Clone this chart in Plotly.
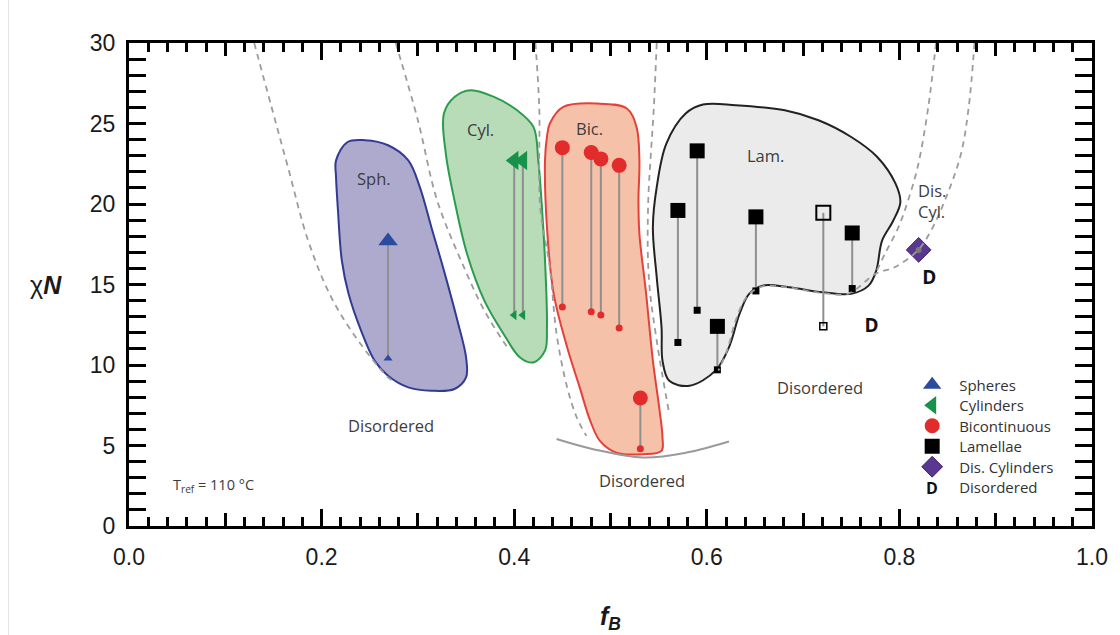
import plotly.graph_objects as go

# ---------------- data (f_B, chiN) ----------------
# measured points: large marker = ordered state, small marker = lower bound
sph_f = [0.269]
sph_hi = [17.7]
sph_lo = [10.4]

cyl_f = [0.400, 0.409]
cyl_hi = [22.7, 22.7]
cyl_lo = [13.1, 13.1]

bic_f = [0.450, 0.480, 0.490, 0.509, 0.531]
bic_hi = [23.5, 23.2, 22.8, 22.4, 7.95]
bic_lo = [13.6, 13.3, 13.1, 12.3, 4.8]

lam_f = [0.570, 0.590, 0.611, 0.651, 0.751]
lam_hi = [19.6, 23.3, 12.4, 19.2, 18.2]
lam_lo = [11.4, 13.4, 9.7, 14.6, 14.75]

lam_open_f = [0.721]
lam_open_hi = [19.45]
lam_open_lo = [12.4]

discyl_f = [0.820]
discyl_chi = [17.15]

dis_f = [0.771, 0.831]
dis_chi = [12.36, 15.34]

# phase regions (outline points)
sph_region_f = [0.215, 0.227, 0.245, 0.269, 0.290, 0.302, 0.314, 0.328, 0.341, 0.350, 0.350,
                0.338, 0.314, 0.290, 0.269, 0.255, 0.241, 0.228, 0.221, 0.217, 0.215, 0.215]
sph_region_chi = [22.71, 23.85, 23.96, 23.65, 22.71, 21.05, 18.56, 15.66, 12.76, 10.47, 9.23,
                  8.51, 8.40, 8.61, 9.33, 10.27, 12.13, 14.42, 16.49, 19.60, 21.67, 22.71]

cyl_region_f = [0.327, 0.338, 0.355, 0.379, 0.403, 0.420, 0.425, 0.429, 0.432, 0.434, 0.432,
                0.420, 0.406, 0.389, 0.369, 0.351, 0.338, 0.329, 0.327]
cyl_region_chi = [25.62, 26.65, 27.07, 26.65, 25.82, 24.79, 22.71, 19.60, 16.49, 12.34, 10.89,
                  10.16, 10.47, 11.93, 14.00, 16.91, 20.22, 23.13, 25.62]

bic_region_f = [0.437, 0.451, 0.486, 0.517, 0.527, 0.530, 0.529, 0.530, 0.537, 0.544, 0.551,
                0.554, 0.553, 0.534, 0.506, 0.489, 0.479, 0.468, 0.454, 0.441, 0.434, 0.432,
                0.434, 0.437]
bic_region_chi = [25.00, 26.03, 26.24, 25.93, 24.79, 22.71, 20.22, 18.15, 14.42, 10.27, 7.16,
                  5.49, 4.67, 4.46, 4.56, 5.29, 6.53, 8.61, 11.31, 14.42, 18.56, 22.71,
                  24.16, 25.00]

lam_region_f = [0.558, 0.578, 0.596, 0.630, 0.681, 0.716, 0.750, 0.777, 0.796, 0.801, 0.793,
                0.782, 0.776, 0.768, 0.750, 0.720, 0.685, 0.658, 0.644, 0.634, 0.623, 0.609,
                0.582, 0.561, 0.554, 0.553, 0.548, 0.544, 0.548, 0.558]
lam_region_chi = [23.75, 25.62, 26.18, 26.14, 25.82, 25.20, 24.16, 22.92, 21.26, 20.10, 18.90,
                  17.73, 15.87, 14.93, 14.42, 14.52, 14.83, 14.93, 14.42, 13.17, 11.10, 9.65,
                  8.71, 9.02, 10.27, 12.34, 15.45, 18.56, 21.05, 23.75]

# theoretical phase boundaries (dashed)
bound_a_f = [0.130, 0.148, 0.165, 0.186, 0.210, 0.238, 0.269, 0.274]
bound_a_chi = [30.0, 26.03, 22.30, 17.73, 14.21, 11.51, 9.23, 9.02]
bound_b_f = [0.277, 0.300, 0.320, 0.348, 0.369, 0.393]
bound_b_chi = [30.0, 25.20, 20.22, 16.05, 13.38, 11.08]
bound_c_f = [0.422, 0.426, 0.427, 0.437, 0.444, 0.455, 0.465, 0.475]
bound_c_chi = [30.0, 26.03, 19.81, 16.07, 11.93, 8.61, 6.74, 5.60]
bound_d_f = [0.548, 0.545, 0.539, 0.540, 0.548, 0.561]
bound_d_chi = [30.0, 26.01, 19.79, 15.25, 11.51, 6.97]
bound_e_f = [0.838, 0.830, 0.819, 0.809, 0.799, 0.785, 0.775]
bound_e_chi = [30.0, 26.03, 22.30, 20.22, 18.56, 16.91, 15.66]
bound_f_f = [0.878, 0.872, 0.864, 0.850, 0.833, 0.819, 0.795, 0.775, 0.747, 0.716, 0.685,
             0.657, 0.641, 0.630, 0.621, 0.612]
bound_f_chi = [30.0, 26.03, 23.13, 20.64, 18.36, 17.11, 16.07, 15.66, 14.44, 14.50, 14.81,
               14.87, 14.19, 12.76, 10.89, 9.65]

# bottom solid boundary
odt_f = [0.444, 0.482, 0.534, 0.579, 0.623]
odt_chi = [5.40, 4.77, 4.25, 4.56, 5.25]

# tick values
x_major = [0.0, 0.2, 0.4, 0.6, 0.8, 1.0]
x_medium = [0.1, 0.3, 0.5, 0.7, 0.9]
y_major = [0, 5, 10, 15, 20, 25, 30]

# legend entries
legend_labels = ["Spheres", "Cylinders", "Bicontinuous", "Lamellae", "Dis. Cylinders", "Disordered"]

# ---------------- styles ----------------
C_SPH, C_SPH_FILL = "#323b93", "#aeaacd"
C_CYL, C_CYL_FILL = "#2a9d4d", "#b8dbb8"
C_BIC, C_BIC_FILL = "#e5413b", "#f5c2a9"
C_LAM, C_LAM_FILL = "#222222", "#ebebeb"
M_SPH, M_CYL, M_BIC, M_LAM, M_DIS = "#2b4c9e", "#17924a", "#e22b2b", "#000000", "#5a3791"
STEM = "#8f8f8f"
DASH = "#9c9c9c"
LABEL_FONT = "Open Sans"
TEXT_C = "#3c3c3c"
LEGEND_ROW_Y = [0.2919, 0.2495, 0.2070, 0.1646, 0.1222, 0.0797]
LEGEND_X = 0.806


def stems(f, lo, hi):
    xs, ys = [], []
    for a, b, c in zip(f, lo, hi):
        xs += [a, a, None]
        ys += [b, c, None]
    return xs, ys


fig = go.Figure()

# regions
for rf, rc, lc, fc in [
    (sph_region_f, sph_region_chi, C_SPH, C_SPH_FILL),
    (cyl_region_f, cyl_region_chi, C_CYL, C_CYL_FILL),
    (bic_region_f, bic_region_chi, C_BIC, C_BIC_FILL),
    (lam_region_f, lam_region_chi, C_LAM, C_LAM_FILL),
]:
    fig.add_trace(go.Scatter(x=rf, y=rc, mode="lines", fill="toself", fillcolor=fc,
                             line=dict(color=lc, width=2, shape="spline", smoothing=1.0),
                             hoverinfo="skip", showlegend=False))

# dashed boundaries (on overlay axis x2 with identical range)
for bf, bc in [(bound_a_f, bound_a_chi), (bound_b_f, bound_b_chi), (bound_c_f, bound_c_chi),
               (bound_d_f, bound_d_chi), (bound_e_f, bound_e_chi), (bound_f_f, bound_f_chi)]:
    fig.add_trace(go.Scatter(x=bf, y=bc, mode="lines", xaxis="x2",
                             line=dict(color=DASH, width=1.8, dash="6px,5px", shape="spline"),
                             hoverinfo="skip", showlegend=False))

fig.add_trace(go.Scatter(x=odt_f, y=odt_chi, mode="lines",
                         line=dict(color="#9a9a9a", width=2, shape="spline"),
                         hoverinfo="skip", showlegend=False))

# stems
for f, lo, hi in [(sph_f, sph_lo, sph_hi), (cyl_f, cyl_lo, cyl_hi), (bic_f, bic_lo, bic_hi),
                  (lam_f, lam_lo, lam_hi), (lam_open_f, lam_open_lo, lam_open_hi)]:
    xs, ys = stems(f, lo, hi)
    fig.add_trace(go.Scatter(x=xs, y=ys, mode="lines", line=dict(color=STEM, width=2),
                             hoverinfo="skip", showlegend=False))


# markers
def mk(x, y, symbol, size, color, name, lw=0, lc=None, legend=None):
    fig.add_trace(go.Scatter(x=x, y=y, mode="markers", name=name,
                             showlegend=legend is not None, legend=legend or "legend",
                             marker=dict(symbol=symbol, size=size, color=color,
                                         line=dict(width=lw, color=lc or color))))


mk(sph_f, sph_lo, "triangle-up", 8, M_SPH, "Spheres")
mk(sph_f, sph_hi, "triangle-up", 17, M_SPH, legend_labels[0], legend="legend")
mk(cyl_f, cyl_lo, "triangle-left", 9, M_CYL, "Cylinders")
mk(cyl_f, cyl_hi, "triangle-left", 17, M_CYL, legend_labels[1], legend="legend2")
mk(bic_f, bic_lo, "circle", 7, M_BIC, "Bicontinuous")
mk(bic_f, bic_hi, "circle", 15, M_BIC, legend_labels[2], legend="legend3")
mk(lam_f, lam_lo, "square", 7, M_LAM, "Lamellae")
mk(lam_f, lam_hi, "square", 15, M_LAM, legend_labels[3], legend="legend4")
mk(lam_open_f, lam_open_lo, "square-open", 7, M_LAM, "Lamellae", 1.5)
mk(lam_open_f, lam_open_hi, "square-open", 14, M_LAM, "Lamellae", 2)
mk(discyl_f, discyl_chi, "diamond", 19, M_DIS, legend_labels[4], 1, "#3d2370", legend="legend5")
mk(discyl_f, discyl_chi, "circle", 6, "#7a7a7a", "Dis. Cylinders")

# disordered "D" labels
fig.add_trace(go.Scatter(x=dis_f, y=dis_chi, mode="text", text=["D"] * len(dis_f),
                         textfont=dict(family=LABEL_FONT, size=19, color="#111111", weight="bold"),
                         hoverinfo="skip", showlegend=False))
# legend entry for "Disordered" (symbol drawn as a bold "D" annotation)
fig.add_trace(go.Scatter(x=[None], y=[None], mode="markers", name=legend_labels[5],
                         marker=dict(opacity=0, size=1), legend="legend6", showlegend=True))

annotations = []


def label(x, y, text, size=16.5, color=TEXT_C, **kw):
    d = dict(x=x, y=y, text=text, showarrow=False, xref="x", yref="y",
             font=dict(family=LABEL_FONT, size=size, color=color))
    d.update(kw)
    annotations.append(d)


label(0.254, 21.6, "Sph.")
label(0.365, 24.6, "Cyl.")
label(0.478, 24.7, "Bic.")
label(0.661, 23.0, "Lam.")
label(0.834, 20.2, "Dis.<br>Cyl.", align="left")
label(0.272, 6.27, "Disordered")
label(0.718, 8.63, "Disordered")
label(0.533, 2.8, "Disordered")
label(0.088, 2.5, "T<sub>ref</sub> = 110 °C", size=14.5)

# "D" symbol of the Disordered legend entry
annotations.append(dict(x=0.834, y=LEGEND_ROW_Y[5], xref="paper", yref="paper", showarrow=False,
                        text="<b>D</b>", xanchor="center", yanchor="middle",
                        font=dict(family=LABEL_FONT, size=16, color="#111111")))

# axis titles
annotations.append(dict(x=-0.0866, y=0.50, xref="paper", yref="paper", showarrow=False,
                        text="χ<b><i>N</i></b>", xanchor="center", yanchor="middle",
                        font=dict(family="Liberation Sans, Arial", size=25, color="#1a1a1a")))
annotations.append(dict(x=0.5, y=-0.19, xref="paper", yref="paper", showarrow=False,
                        text="<b><i>f<sub>B</sub></i></b>", xanchor="center", yanchor="middle",
                        font=dict(family="Liberation Sans, Arial", size=25, color="#1a1a1a")))

tickfont = dict(family="Liberation Sans, Arial", size=23, color="#1a1a1a")

legend_common = dict(x=LEGEND_X, xanchor="left", yanchor="middle", bgcolor="rgba(0,0,0,0)",
                     borderwidth=0, itemwidth=44, itemsizing="trace",
                     font=dict(family=LABEL_FONT, size=15, color="#333333"))
legends = {}
for i, ry in enumerate(LEGEND_ROW_Y):
    key = "legend" if i == 0 else f"legend{i + 1}"
    legends[key] = dict(legend_common, y=ry)

fig.update_layout(
    width=1120, height=635,
    margin=dict(l=129, r=21, t=43, b=109),
    paper_bgcolor="white", plot_bgcolor="white",
    showlegend=True,
    annotations=annotations,
    xaxis=dict(range=[0, 1], tickvals=x_major, ticktext=[f"{v:.1f}" for v in x_major],
               ticks="inside", ticklen=17, tickwidth=3, tickcolor="black",
               showline=True, linewidth=3, linecolor="black", mirror="allticks",
               showgrid=False, zeroline=False, tickfont=tickfont, ticklabelstandoff=8,
               minor=dict(dtick=0.02, tick0=0, ticks="inside", ticklen=9, tickwidth=2.5,
                          tickcolor="black", showgrid=False)),
    xaxis2=dict(range=[0, 1], overlaying="x", anchor="y", side="bottom", tickvals=x_medium,
                ticks="inside", ticklen=13, tickwidth=3, tickcolor="black",
                showticklabels=False, showline=True, linewidth=3, linecolor="black",
                mirror="allticks", showgrid=False, zeroline=False),
    yaxis=dict(range=[0, 30], tickvals=y_major, ticks="inside", ticklen=17, tickwidth=3,
               tickcolor="black", showline=True, linewidth=3, linecolor="black",
               mirror="allticks", showgrid=False, zeroline=False, tickfont=tickfont,
               ticklabelstandoff=6,
               minor=dict(dtick=1, tick0=0, ticks="inside", ticklen=9, tickwidth=2.5,
                          tickcolor="black", showgrid=False)),
    shapes=[dict(type="line", xref="paper", yref="paper", x0=-0.125, x1=-0.125, y0=-0.23, y1=1.09,
                 line=dict(color="#e2e2e2", width=1))],
    **legends,
)

fig.write_html("out.html")
